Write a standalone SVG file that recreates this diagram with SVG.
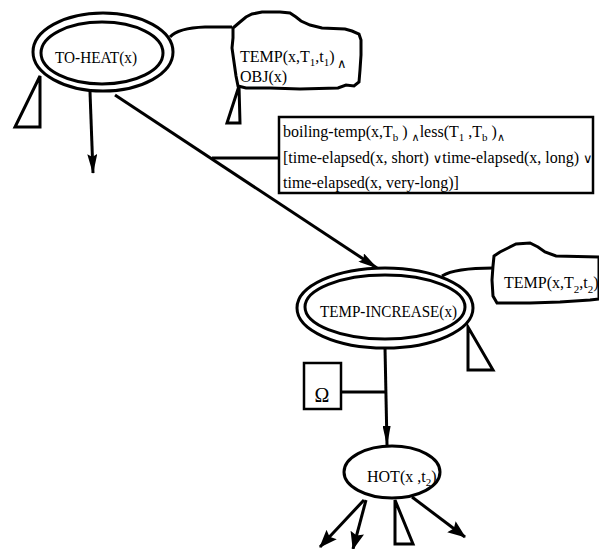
<svg xmlns="http://www.w3.org/2000/svg" width="599" height="549" viewBox="0 0 599 549">
<defs>
<marker id="ah" markerWidth="20" markerHeight="10" refX="19" refY="5" orient="auto" markerUnits="userSpaceOnUse">
<path d="M0,0 L20,5 L0,10 L3,5 Z" fill="#000"/>
</marker>
<marker id="ahs" markerWidth="20" markerHeight="8" refX="19" refY="4" orient="auto" markerUnits="userSpaceOnUse">
<path d="M0,0 L20,4 L0,8 Z" fill="#000"/>
</marker>
<marker id="ahb" markerWidth="18" markerHeight="14" refX="17" refY="7" orient="auto" markerUnits="userSpaceOnUse">
<path d="M0,0 L18,7 L0,14 L3,7 Z" fill="#000"/>
</marker>
</defs>
<style>
.ln{fill:none;stroke:#000;stroke-width:3;stroke-linejoin:miter}
.sh{fill:#fff;stroke:#000;stroke-width:3}
.tx{font-family:"Liberation Serif",serif;font-size:17px;fill:#000}
.sm{font-family:"Liberation Serif",serif;font-size:16px;fill:#000}
.sub{font-size:11px}
.op{font-family:"DejaVu Sans",sans-serif;font-size:11px;fill:#000}
.op2{font-family:"DejaVu Sans",sans-serif;font-size:13px;fill:#000}
</style>
<rect width="599" height="549" fill="#fff"/>
<g id="connectors">
<path class="ln" d="M170,37 Q178,28 205,27 L232,27"/>
<path class="ln" d="M90,92 L93,173" marker-end="url(#ah)"/>
<path class="ln" d="M115,95 L377,268" marker-end="url(#ah)"/>
<path class="ln" d="M212,158 L279,158"/>
<path class="ln" d="M442,276 Q455,268 493,268"/>
<path class="ln" d="M385,348 L387,445" marker-end="url(#ahs)"/>
<path class="ln" d="M341,392 L387,392"/>
<path class="ln" d="M364,500 L320,547" marker-end="url(#ahb)"/>
<path class="ln" d="M366,500 L353,549" marker-end="url(#ahb)"/>
<path class="ln" d="M412,497 L465,537" marker-end="url(#ahb)"/>
<path class="ln" d="M40,76 L15,127 L40,127 Z"/>
<path class="ln" d="M239,86 L227,123 L240,123 Z"/>
<path class="ln" d="M468,327 L468,370 L493,370 Z"/>
<path class="ln" d="M395,500 L395,544 L413,544 Z"/>
</g>
<g id="to-heat">
<ellipse class="sh" cx="103" cy="52" rx="70" ry="39"/>
<ellipse class="sh" cx="102" cy="53" rx="61" ry="31"/>
<text class="tx" x="55" y="63" textLength="82" lengthAdjust="spacingAndGlyphs">TO-HEAT(x)</text>
</g>
<g id="cloud1">
<path class="sh" d="M233,28 L240,22 L246,17 L252,14 L262,12 L280,12 L290,13 L296,17 L301,21 L310,25 L322,28 L345,29 L352,31 L359,34 L361,40 L361,55 L360,70 L359,82 L354,86 L346,85 L338,88 L300,89 L270,88 L246,88 L238,86 L236,76 L234,62 L232,48 L233,38 Z"/>
<text class="sm" x="240" y="62">TEMP(x,T<tspan class="sub" dy="4">1</tspan><tspan dy="-4">,t</tspan><tspan class="sub" dy="4">1</tspan><tspan dy="-4">)</tspan></text>
<text class="op2" x="337" y="68">∧</text>
<text class="sm" x="240" y="82">OBJ(x)</text>
</g>
<g id="condition">
<rect x="279" y="117" width="314" height="76" fill="#fff" stroke="#000" stroke-width="2.5"/>
<text class="sm" x="283" y="137">boiling-temp(x,T<tspan class="sub" dy="4">b</tspan><tspan dy="-4"> ) </tspan><tspan class="op" dy="4">∧</tspan><tspan dy="-4">less(T</tspan><tspan class="sub" dy="4">1</tspan><tspan dy="-4"> ,T</tspan><tspan class="sub" dy="4">b</tspan><tspan dy="-4"> )</tspan><tspan class="op" dy="4">∧</tspan></text>
<text class="sm" x="283" y="163">[time-elapsed(x, short) <tspan class="op2">∨</tspan>time-elapsed(x, long) <tspan class="op2">∨</tspan></text>
<text class="sm" x="283" y="188">time-elapsed(x, very-long)]</text>
</g>
<g id="temp-increase">
<ellipse class="sh" cx="385" cy="308" rx="88" ry="40"/>
<ellipse class="sh" cx="385" cy="307" rx="80" ry="32"/>
<text class="tx" x="320" y="317" textLength="137" lengthAdjust="spacingAndGlyphs">TEMP-INCREASE(x)</text>
</g>
<g id="cloud2">
<path class="sh" d="M494,256 L500,252 L508,248 L516,244 L530,243 L538,247 L545,252 L556,256 L599,257 L599,299 L590,300 L560,302 L530,303 L497,303 L493,296 L492,280 L493,266 Z"/>
<text class="sm" x="504" y="288">TEMP(x,T<tspan class="sub" dy="5">2</tspan><tspan dy="-5">,t</tspan><tspan class="sub" dy="5">2</tspan><tspan dy="-5">)</tspan></text>
</g>
<g id="omega">
<rect x="304" y="363" width="37" height="46" fill="#fff" stroke="#000" stroke-width="2.5"/>
<text class="tx" x="322" y="402" text-anchor="middle" style="font-size:20px">Ω</text>
</g>
<g id="hot">
<ellipse class="sh" cx="392" cy="472" rx="48" ry="26"/>
<text class="sm" x="367" y="482">HOT(x ,t<tspan class="sub" dy="4">2</tspan><tspan dy="-4">)</tspan></text>
</g>
</svg>
